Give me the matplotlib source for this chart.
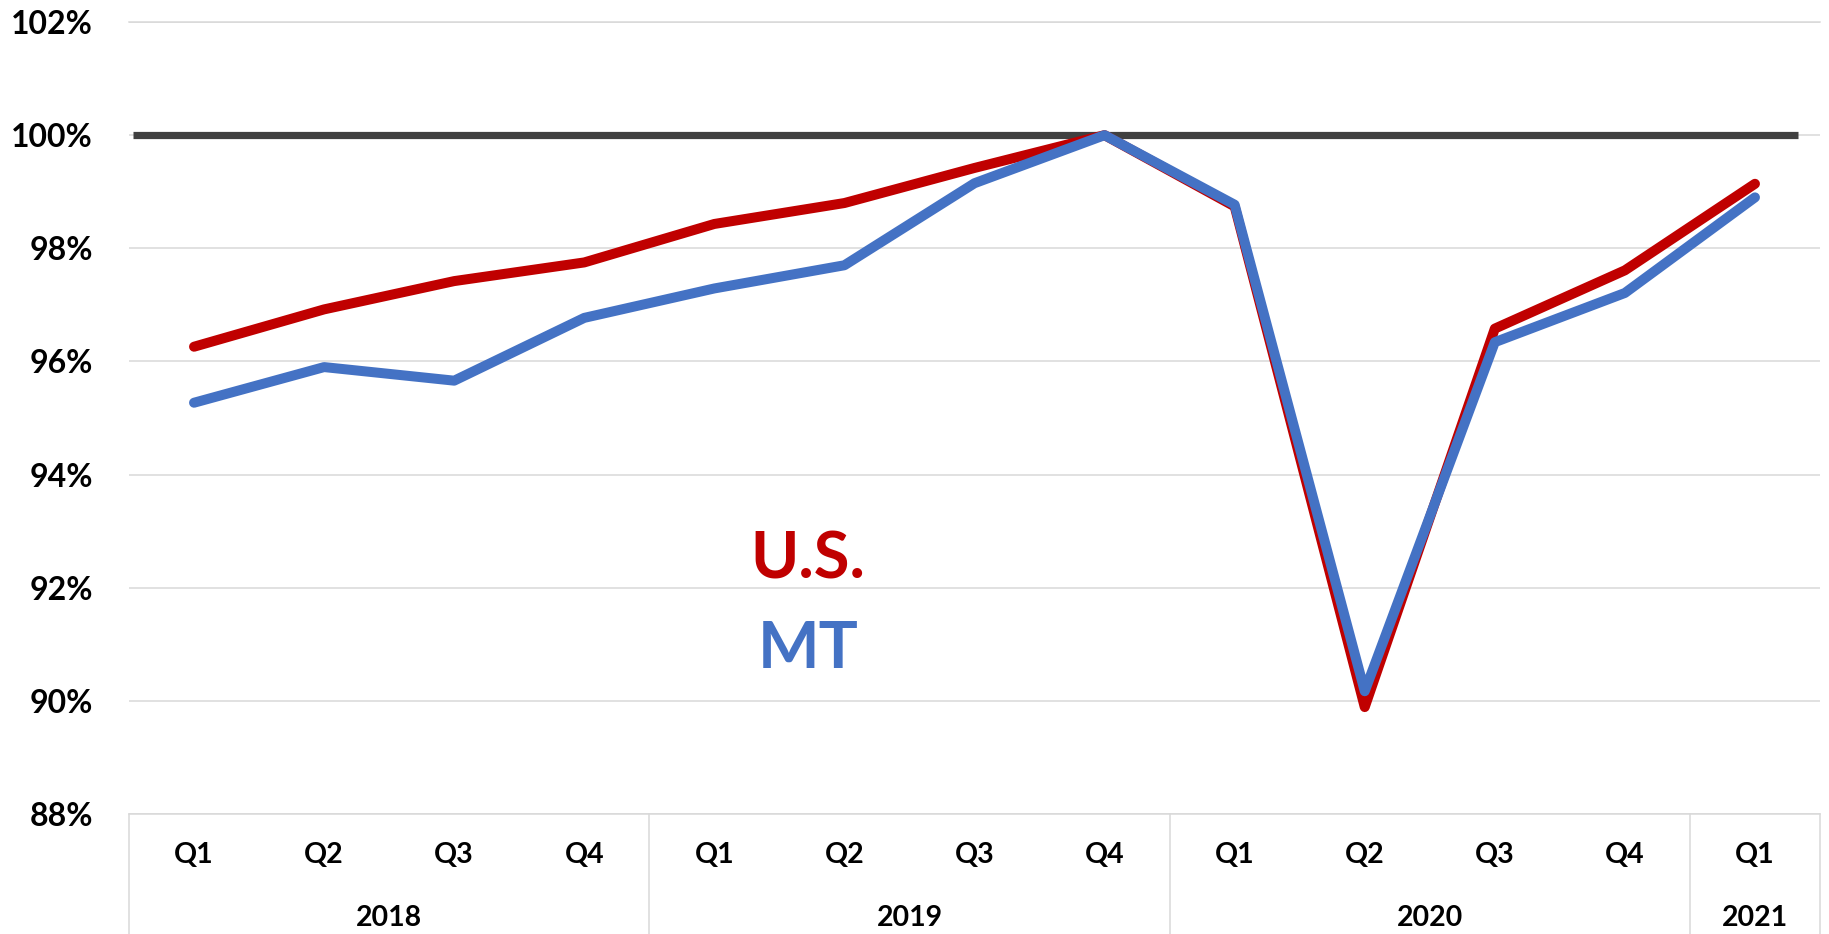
import matplotlib.pyplot as plt
from matplotlib import transforms

plt.switch_backend("Agg")  # sin ventana

plt.rcParams["font.family"] = ["Lato", "DejaVu Sans"]
plt.rcParams["font.weight"] = "bold"

# datos (índice, 2019 Q4 = 100%)
trimestres = ["Q1", "Q2", "Q3", "Q4", "Q1", "Q2", "Q3", "Q4", "Q1", "Q2", "Q3", "Q4", "Q1"]
anios = ["2018", "2019", "2020", "2021"]
trimestres_por_anio = [4, 4, 4, 1]
us = [96.26, 96.92, 97.42, 97.75, 98.43, 98.80, 99.42, 100.0, 98.74, 89.89, 96.58, 97.61, 99.14]
mt = [95.27, 95.90, 95.66, 96.77, 97.29, 97.70, 99.15, 100.0, 98.77, 90.17, 96.34, 97.21, 98.90]
referencia = 100
y_ticks = [88, 90, 92, 94, 96, 98, 100, 102]

ROJO = "#C00000"
AZUL = "#4472C4"
GRIS = "#D9D9D9"

W, H = 1829, 934
fig = plt.figure(figsize=(W / 100, H / 100), dpi=100)
ax = fig.add_axes([129 / W, 120 / H, 1691 / W, 792 / H])

x = list(range(len(trimestres)))
ax.set_xlim(-0.5, len(trimestres) - 0.5)
ax.set_ylim(y_ticks[0], y_ticks[-1])
ax.set_yticks(y_ticks)
ax.set_yticklabels([f"{t}%" for t in y_ticks])
ax.tick_params(axis="y", length=0, pad=26, labelsize=23)
ax.set_xticks([])
ax.grid(axis="y", color=GRIS, linewidth=1.1)
ax.set_axisbelow(True)
for lado, spine in ax.spines.items():
    spine.set_visible(lado in ("top", "bottom"))
    spine.set_color(GRIS)
    spine.set_linewidth(1.1)

# línea de referencia 100%
ax.axhline(referencia, xmin=0.0025, xmax=0.987, color="#404040", linewidth=5.2,
           solid_capstyle="butt", zorder=2)
ax.plot(x, us, color=ROJO, linewidth=7.2, solid_capstyle="round",
        solid_joinstyle="round", zorder=3)
ax.plot(x, mt, color=AZUL, linewidth=7.2, solid_capstyle="round",
        solid_joinstyle="round", zorder=4)

ax.text(4.72, 92.17, "U.S.", color=ROJO, fontsize=47, ha="center", va="baseline")
ax.text(4.72, 90.58, "MT", color=AZUL, fontsize=47, ha="center", va="baseline")

# eje de categorías en dos niveles (trimestre / año)
trans = transforms.blended_transform_factory(ax.transData, ax.transAxes)
for i, q in enumerate(trimestres):
    ax.text(i, -0.052, q, transform=trans, ha="center", va="center", fontsize=20.5)

inicio = -0.5
bordes = [inicio]
for anio, n in zip(anios, trimestres_por_anio):
    ax.text(inicio + n / 2, -0.131, anio, transform=trans, ha="center",
            va="center", fontsize=20.5)
    inicio += n
    bordes.append(inicio)
for b in bordes:
    ax.plot([b, b], [0, -0.1515], transform=trans, color=GRIS, linewidth=1.1,
            clip_on=False)

fig.savefig("out.png", dpi=100)
plt.close(fig)
